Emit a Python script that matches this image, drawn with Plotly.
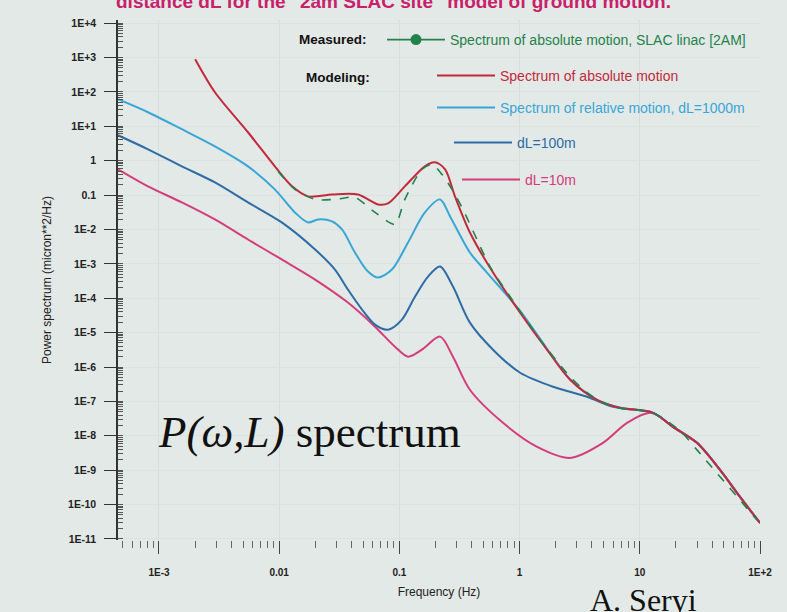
import plotly.graph_objects as go

# ---------------- data ----------------
# Measured: spectrum of absolute motion, SLAC linac
meas_f = [0.0098, 0.0135, 0.0199, 0.0291, 0.0427, 0.0627, 0.0918, 0.111, 0.154, 0.187,
          0.226, 0.274, 0.338, 0.567, 0.832, 1.48, 2.63, 3.85, 5.99, 12.9, 21.6, 29.9, 94.4]
meas_p = [0.488, 0.146, 0.0747, 0.0747, 0.0855, 0.0313, 0.0140, 0.0747, 0.558, 0.782,
          0.399, 0.146, 0.0382, 8.35e-4, 1.12e-4, 6.24e-6, 5.22e-7, 1.56e-7, 6.97e-8, 4.66e-8,
          1.40e-8, 3.90e-9, 3.56e-11]

# Modeling: spectrum of absolute motion
abs_f = [0.0020, 0.00292, 0.0055, 0.0092, 0.0128, 0.0174, 0.0275, 0.0453, 0.0664, 0.0804,
         0.111, 0.163, 0.198, 0.240, 0.290, 0.386, 0.601, 1.01, 1.69, 2.63, 4.41, 6.84,
         12.9, 18.9, 29.9, 46.5, 68.2, 100]
abs_p = [894, 97.8, 6.7, 0.683, 0.179, 0.0914, 0.104, 0.104, 0.0534, 0.0571,
         0.179, 0.683, 0.893, 0.558, 0.0914, 0.00816, 5.58e-4, 3.82e-5, 3.19e-6, 4.27e-7,
         1.11e-7, 6.52e-8, 4.66e-8, 1.82e-8, 6.23e-9, 1.02e-9, 1.67e-10, 2.91e-11]

# Modeling: spectrum of relative motion, dL = 1000 m
rel1000_f = [0.000456, 0.00081, 0.00155, 0.00292, 0.0055, 0.0092, 0.0135, 0.0174, 0.0210,
             0.0275, 0.0333, 0.0427, 0.0548, 0.0664, 0.0867, 0.118, 0.163, 0.218, 0.264,
             0.386, 0.535, 1.01, 1.69, 2.63, 4.41, 6.84, 12.9, 18.9, 29.9, 46.5, 68.2, 100]
rel1000_p = [61, 25.6, 8.2, 2.61, 0.683, 0.146, 0.0313, 0.0160, 0.0195,
             0.0171, 0.00998, 0.00213, 5.97e-4, 3.99e-4, 6.82e-4, 0.00418, 0.0313, 0.0747, 0.0239,
             0.00213, 5.58e-4, 4.3e-5, 3.4e-6, 4.4e-7, 1.11e-7, 6.52e-8, 4.66e-8, 1.82e-8,
             6.23e-9, 1.02e-9, 1.67e-10, 2.91e-11]

# Modeling: dL = 100 m
rel100_f = [0.000456, 0.00081, 0.00155, 0.00292, 0.0055, 0.0105, 0.0199, 0.0291, 0.0373,
            0.0489, 0.0627, 0.0804, 0.105, 0.135, 0.173, 0.218, 0.279, 0.386, 0.601, 1.01,
            1.90, 3.64, 5.99, 12.9, 18.9, 29.9, 46.5, 68.2, 100]
rel100_p = [5.47, 2.14, 0.683, 0.233, 0.0611, 0.0160, 0.00261, 6.82e-4, 1.79e-4,
            4.67e-5, 1.71e-5, 1.22e-5, 2.39e-5, 1.12e-4, 4.27e-4, 8.35e-4, 2.18e-4, 1.95e-5,
            3.19e-6, 6.82e-7, 2.67e-7, 1.37e-7, 6.97e-8, 4.66e-8, 1.82e-8, 6.23e-9, 1.02e-9,
            1.67e-10, 2.91e-11]

# Modeling: dL = 10 m
rel10_f = [0.000456, 0.00081, 0.00155, 0.00292, 0.0055, 0.0105, 0.0199, 0.0373, 0.0627,
           0.0918, 0.118, 0.154, 0.218, 0.279, 0.386, 0.728, 1.40, 2.63, 4.94, 7.83, 12.2,
           14.7, 18.9, 29.9, 46.5, 68.2, 100]
rel10_p = [0.558, 0.179, 0.0611, 0.0195, 0.0051, 0.00134, 3.49e-4, 7.47e-5, 1.49e-5,
           3.90e-6, 2.0e-6, 3.19e-6, 7.64e-6, 2.0e-6, 2.18e-7, 2.38e-8, 4.76e-9, 2.28e-9,
           6.23e-9, 2.38e-8, 4.66e-8, 3.56e-8, 1.82e-8, 6.23e-9, 1.02e-9, 1.67e-10, 2.91e-11]

# tick labels
x_tickvals = [1e-3, 1e-2, 1e-1, 1, 10, 100]
x_ticktext = ["1E-3", "0.01", "0.1", "1", "10", "1E+2"]
y_tickvals = [1e4, 1e3, 1e2, 1e1, 1, 0.1, 1e-2, 1e-3, 1e-4, 1e-5, 1e-6, 1e-7, 1e-8,
              1e-9, 1e-10, 1e-11]
y_ticktext = ["1E+4", "1E+3", "1E+2", "1E+1", "1", "0.1", "1E-2", "1E-3", "1E-4", "1E-5",
              "1E-6", "1E-7", "1E-8", "1E-9", "1E-10", "1E-11"]

# ---------------- styling ----------------
C_GREEN = "#23824c"
C_RED = "#c22a3c"
C_CYAN = "#38a6d6"
C_BLUE = "#2e6ca6"
C_MAG = "#d43c7c"
BG = "#e3e9e6"
SANS = "Liberation Sans, Arial, sans-serif"
SERIF = "Liberation Serif, Times New Roman, serif"

fig = go.Figure()

def add_line(f, p, color, legend, name, width=2.0, dash="solid"):
    fig.add_trace(go.Scatter(
        x=f, y=p, mode="lines", name=name, legend=legend,
        line=dict(color=color, width=width, dash=dash, shape="spline", smoothing=0.85),
        showlegend=True, hoverinfo="x+y"))

add_line(rel10_f, rel10_p, C_MAG, "legend5", "dL=10m")
add_line(rel100_f, rel100_p, C_BLUE, "legend4", "dL=100m")
add_line(rel1000_f, rel1000_p, C_CYAN, "legend3", "Spectrum of relative motion, dL=1000m")
add_line(abs_f, abs_p, C_RED, "legend2", "Spectrum of absolute motion")

fig.add_trace(go.Scatter(
    x=meas_f, y=meas_p, mode="lines", showlegend=False,
    line=dict(color=C_GREEN, width=1.6, dash="dash", shape="spline", smoothing=0.7)))
# legend entry for the measured spectrum (line with round marker)
fig.add_trace(go.Scatter(
    x=[None], y=[None], mode="lines+markers", legend="legend",
    name="Spectrum of absolute motion, SLAC linac [2AM]",
    line=dict(color=C_GREEN, width=1.6), marker=dict(color=C_GREEN, size=11)))

W, H = 787, 612
L, R, T, B = 118, 27, 20, 72
PW, PH = W - L - R, H - T - B

def px(xp):
    return (xp - L) / PW

def py(yp):
    return (H - B - yp) / PH

def legend_at(xline, yline, color):
    return dict(x=px(xline - 8), y=py(yline), xanchor="left", yanchor="middle",
                bgcolor="rgba(0,0,0,0)", borderwidth=0, itemwidth=58,
                font=dict(family=SANS, size=14, color=color), tracegroupgap=0)

fig.update_layout(
    width=W, height=H,
    margin=dict(l=L, r=R, t=T, b=B),
    paper_bgcolor=BG, plot_bgcolor=BG,
    font=dict(family=SANS, color="#222"),
    legend=legend_at(390, 40, C_GREEN),
    legend2=legend_at(440, 76, C_RED),
    legend3=legend_at(440, 108, C_CYAN),
    legend4=legend_at(457, 143, C_BLUE),
    legend5=legend_at(465, 180, C_MAG),
    xaxis=dict(
        type="log", range=[-3.341, 2.0],
        tickmode="array", tickvals=x_tickvals, ticktext=x_ticktext,
        ticks="outside", ticklen=13, tickcolor="#444", tickwidth=1,
        ticklabelstandoff=10,
        tickfont=dict(family=SANS, size=10, color="#222", weight="bold"),
        showline=False, zeroline=False,
        showgrid=True, gridcolor="#d6dedb", gridwidth=1,
        minor=dict(dtick="D1", ticks="outside", ticklen=7, tickcolor="#666", showgrid=False),
        title=dict(text="Frequency (Hz)", font=dict(family=SANS, size=12, color="#222"),
                   standoff=10),
    ),
    yaxis=dict(
        type="log", range=[-11.03, 4.09],
        tickmode="array", tickvals=y_tickvals, ticktext=y_ticktext,
        ticks="outside", ticklen=12, tickcolor="#333", tickwidth=1.2,
        ticklabelstandoff=6,
        tickfont=dict(family=SANS, size=10.5, color="#222", weight="bold"),
        showline=True, linecolor="#333", linewidth=1.5, zeroline=False,
        showgrid=True, gridcolor="#dbe2df", gridwidth=1,
        minor=dict(dtick="D1", ticks="inside", ticklen=5, tickcolor="#555", showgrid=False),
        title=dict(text="Power spectrum (micron**2/Hz)",
                   font=dict(family=SANS, size=12, color="#222"), standoff=14),
    ),
    annotations=[
        dict(text='distance dL for the "2am SLAC site" model of ground motion.',
             xref="paper", yref="paper", x=px(114), y=py(14), xanchor="left",
             yanchor="bottom", showarrow=False,
             font=dict(family=SANS, size=19, color="#c8206a", weight="bold")),
        dict(text="Measured:", xref="paper", yref="paper", x=px(297), y=py(40),
             xanchor="left", yanchor="middle", showarrow=False,
             font=dict(family=SANS, size=13.5, color="#111", weight="bold")),
        dict(text="Modeling:", xref="paper", yref="paper", x=px(304), y=py(77),
             xanchor="left", yanchor="middle", showarrow=False,
             font=dict(family=SANS, size=13.5, color="#111", weight="bold")),
        dict(text="<i>P(ω,L)</i> spectrum", xref="paper", yref="paper", x=px(156),
             y=py(432), xanchor="left", yanchor="middle", showarrow=False,
             font=dict(family=SERIF, size=45, color="#111")),
        dict(text="A. Seryi", xref="paper", yref="paper", x=px(588), y=py(580),
             xanchor="left", yanchor="top", showarrow=False,
             font=dict(family=SERIF, size=32, color="#111")),
    ],
)

fig.write_html(
    "out.html",
    config={"displayModeBar": False},
    post_script="document.body.style.margin='0';document.body.style.overflow='hidden';"
                "document.body.style.background='" + BG + "';",
)
